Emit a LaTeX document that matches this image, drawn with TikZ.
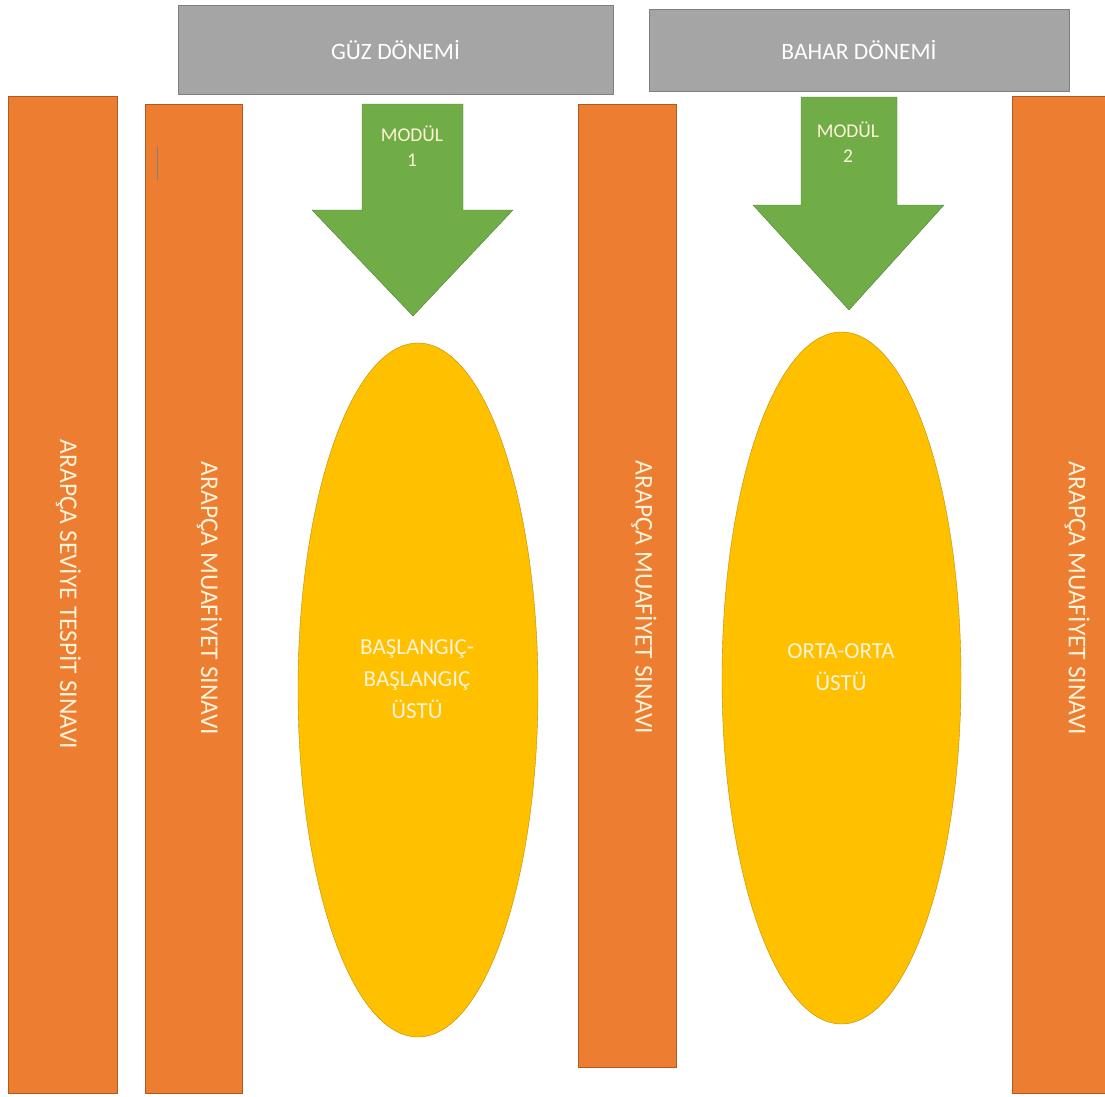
\documentclass[tikz,border=0pt]{standalone}
\usepackage{fontspec}
\setmainfont{Carlito}
\usetikzlibrary{shapes.geometric,calc}
\definecolor{donemgray}{HTML}{A5A5A5}
\definecolor{donemline}{HTML}{7F7F7F}
\definecolor{sinavorange}{HTML}{ED7D31}
\definecolor{sinavline}{HTML}{AE5A21}
\definecolor{modulgreen}{HTML}{70AD47}
\definecolor{modulline}{HTML}{507E32}
\definecolor{seviyeyellow}{HTML}{FFC000}
\definecolor{seviyeline}{HTML}{BC8C00}
\definecolor{yazi}{HTML}{FFF4DA}
\tikzstyle{donem box}=[
        draw = donemline,
        fill = donemgray,
        text = white,
        font = \fontsize{23.5}{28}\selectfont,
        inner sep = 0pt
    ]
\tikzstyle{sinav bar}=[
        draw = sinavline,
        fill = sinavorange,
        inner sep = 0pt
    ]
\tikzstyle{sinav text}=[
        text = yazi,
        rotate = -90,
        font = \fontsize{25.5}{30}\selectfont
    ]
\tikzstyle{seviye}=[
        draw = seviyeline,
        fill = seviyeyellow,
        ellipse,
        inner sep = 0pt,
        text = yazi,
        align = center,
        font = \fontsize{23}{32}\selectfont
    ]
\tikzstyle{modul arrow}=[
        draw = modulline,
        fill = modulgreen
    ]
\tikzstyle{modul text}=[
        text = yazi,
        align = center,
        font = \fontsize{19.5}{25}\selectfont
    ]

\begin{document}
\begin{tikzpicture}[x=1pt, y=-1pt]
        \useasboundingbox (0,0) rectangle (1105,1096);

        % donemler
        \node[donem box, minimum width=435pt, minimum height=89pt] (guz) at (395.5,49.5) {GÜZ DÖNEMİ};
        \node[donem box, minimum width=420pt, minimum height=82pt] (bahar) at (859,50) {BAHAR DÖNEMİ};

        % sinav sutunlari
        \node[sinav bar, minimum width=109pt, minimum height=997pt] (tespit) at (62.5,594.5) {};
        \node[sinav bar, minimum width=97pt, minimum height=989pt] (muaf1) at (193.5,598.5) {};
        \node[sinav bar, minimum width=98pt, minimum height=963pt] (muaf2) at (627,585.5) {};
        \node[sinav bar, minimum width=98pt, minimum height=997pt] (muaf3) at (1061,594.5) {};

        \node[sinav text] (tespit text) at ([xshift=6pt]tespit.center) {ARAPÇA SEVİYE TESPİT SINAVI};
        \node[sinav text] (muaf1 text) at ([xshift=16pt]muaf1.center) {ARAPÇA MUAFİYET SINAVI};
        \node[sinav text] (muaf2 text) at ([xshift=17pt,yshift=-12pt]muaf2.center) {ARAPÇA MUAFİYET SINAVI};
        \node[sinav text] (muaf3 text) at ([xshift=16pt,yshift=-4pt]muaf3.center) {ARAPÇA MUAFİYET SINAVI};

        % imlec
        \draw[donemline, line width=1pt] (157,147) -- (157,180);

        % moduller
        \draw[modul arrow] (362,104) -- (463,104) -- (463,210) -- (513,210) -- (413,316)
            -- (312,210) -- (362,210) -- cycle;
        \draw[modul arrow] (801,97) -- (897,97) -- (897,205) -- (944,205) -- (849,310)
            -- (753,205) -- (801,205) -- cycle;
        \node[modul text] (modul1) at (412,146) {MODÜL\\1};
        \node[modul text] (modul2) at (848,142) {MODÜL\\2};

        % seviyeler
        \node[seviye, minimum width=240pt, minimum height=694pt] (baslangic) at (418,690) {};
        \node[seviye, minimum width=239pt, minimum height=692pt] (orta) at (841.5,678) {};
        \node[seviye, draw=none, fill=none] (baslangic text) at (417,679) {BAŞLANGIÇ-\\BAŞLANGIÇ\\ÜSTÜ};
        \node[seviye, draw=none, fill=none] (orta text) at (841,667) {ORTA-ORTA\\ÜSTÜ};
    \end{tikzpicture}
\end{document}
